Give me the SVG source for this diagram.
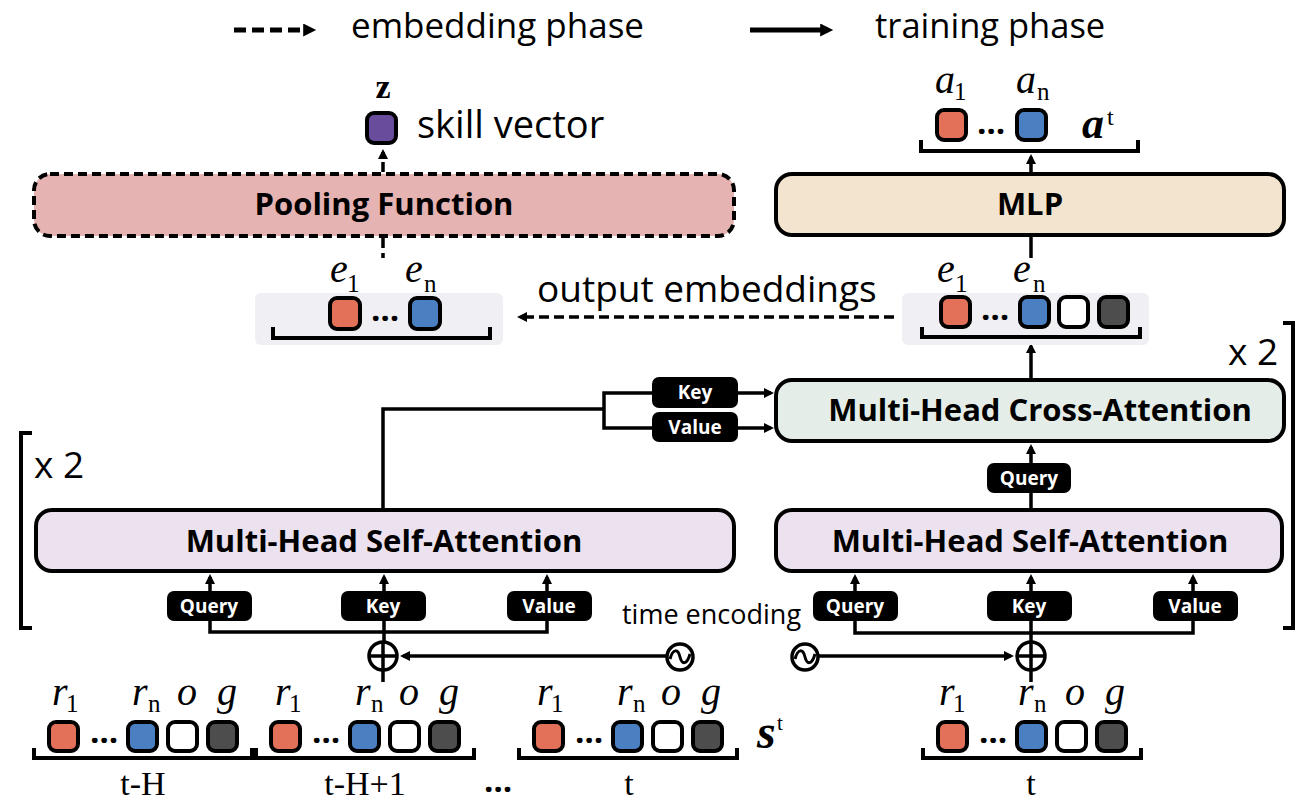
<svg xmlns="http://www.w3.org/2000/svg" width="1310" height="804" viewBox="0 0 1310 804">
<defs>
<marker id="ah" viewBox="0 0 10 10" refX="7" refY="5" markerWidth="11" markerHeight="10" markerUnits="userSpaceOnUse" orient="auto"><path d="M0,0 L10,5 L0,10 z" fill="#000"/></marker>
<marker id="ahL" viewBox="0 0 10 10" refX="6" refY="5" markerWidth="17" markerHeight="13" markerUnits="userSpaceOnUse" orient="auto"><path d="M0,0 L10,5 L0,10 z" fill="#000"/></marker>
</defs>
<style>
.box{stroke:#000;stroke-width:4}
.lbl{font-family:"Open Sans","Liberation Sans",sans-serif;font-weight:700;font-size:31px;text-anchor:middle;fill:#000}
.tag rect{fill:#000}
.tag text{fill:#fff;font-family:"Open Sans","Liberation Sans",sans-serif;font-weight:700;font-size:19px;text-anchor:middle}
.cell{stroke:#000;stroke-width:4}
.red{fill:#e3715a}.blue{fill:#4a80c1}.wht{fill:#fff}.drk{fill:#4d4d4d}.pur{fill:#6a4c9c}
.it{font-family:"Liberation Serif",serif;font-style:italic;font-size:40px}
.sub{font-family:"Liberation Serif",serif;font-size:25px}
.dots{font-family:"Open Sans","Liberation Sans",sans-serif;font-weight:700;font-size:33px;text-anchor:middle}
.ln{fill:none;stroke:#000;stroke-width:3.5}
.dash{stroke-dasharray:10 5}
.leg{fill:none;stroke:#000;stroke-width:5}
.legdash{stroke-dasharray:12 6}
.br{fill:none;stroke:#000;stroke-width:4}
.txt{font-family:"Open Sans","Liberation Sans",sans-serif;fill:#000}
.ser{font-family:"Liberation Serif",serif;font-size:34px;text-anchor:middle}
.bg{fill:#efeff4}
</style>

<g id="legend">
<path class="leg legdash" d="M234,30 H311" marker-end="url(#ahL)"/>
<text class="txt" x="351" y="38" font-size="35">embedding phase</text>
<path class="leg" d="M750,30 H828" marker-end="url(#ahL)"/>
<text class="txt" x="875" y="38" font-size="34.5">training phase</text>
</g>

<g id="connectors">
<path class="ln dash" d="M383,238 V258"/>
<path class="ln dash" d="M383,172 V152" marker-end="url(#ah)"/>
<path class="ln dash" d="M894,317 H520" marker-end="url(#ah)"/>
<path class="ln" d="M1031,237 V258"/>
<path class="ln" d="M1031,172 V157" marker-end="url(#ah)"/>
<path class="ln" d="M1031,378 V346" marker-end="url(#ah)"/>
<path class="ln" d="M1031,508 V493 M1031,463 V447" marker-end="url(#ah)"/>
<path class="ln" d="M383,508 V409 H604 M652,393 H604 V428 H652"/>
<path class="ln" d="M738,393 H771" marker-end="url(#ah)"/>
<path class="ln" d="M738,428 H771" marker-end="url(#ah)"/>
<path class="ln" d="M210,591 V577" marker-end="url(#ah)"/>
<path class="ln" d="M384,591 V577" marker-end="url(#ah)"/>
<path class="ln" d="M547,591 V577" marker-end="url(#ah)"/>
<path class="ln" d="M855,591 V577" marker-end="url(#ah)"/>
<path class="ln" d="M1031,591 V577" marker-end="url(#ah)"/>
<path class="ln" d="M1193,591 V577" marker-end="url(#ah)"/>
<path class="ln" d="M210,621 V632 H547 V621 M384,621 V642 M383,670 V682"/>
<path class="ln" d="M855,621 V633 H1193 V621 M1031,621 V642 M1031,670 V682"/>
<path class="ln" d="M667,656 H403" marker-end="url(#ah)"/>
<path class="ln" d="M818,656 H1011" marker-end="url(#ah)"/>
</g>

<g id="skill-vector">
<text x="383" y="98" font-family="Liberation Serif,serif" font-weight="700" font-size="34" text-anchor="middle">z</text>
<rect class="cell pur" x="367" y="113" width="29" height="30" rx="7"/>
<text class="txt" x="417" y="138" font-size="38">skill vector</text>
</g>

<g id="pooling-function">
<rect x="34" y="174" width="700" height="62" rx="16" fill="#e5b3b1" stroke="#000" stroke-width="4" stroke-dasharray="9 5"/>
<text class="lbl" x="384" y="215">Pooling Function</text>
</g>

<g id="mlp">
<rect class="box" x="776" y="174" width="508" height="61" rx="16" fill="#f3e4d0"/>
<text class="lbl" x="1030" y="215">MLP</text>
</g>

<g id="actions">
<text class="it" x="935" y="93">a</text><text class="sub" x="954" y="100">1</text>
<text class="it" x="1016" y="93">a</text><text class="sub" x="1037" y="100">n</text>
<rect class="cell red" x="937" y="110" width="29" height="30" rx="7"/>
<text class="dots" x="991" y="134">…</text>
<rect class="cell blue" x="1017" y="110" width="29" height="30" rx="7"/>
<path class="br" d="M921,140 V151 H1138 V140"/>
<text x="1082" y="138" font-family="Liberation Serif,serif" font-weight="700" font-style="italic" font-size="44">a</text>
<text x="1107" y="125" font-family="Liberation Serif,serif" font-size="24">t</text>
</g>

<g id="embeddings-left">
<rect class="bg" x="255" y="293" width="248" height="52" rx="6"/>
<text class="it" x="330" y="282">e</text><text class="sub" x="347" y="292">1</text>
<text class="it" x="405" y="282">e</text><text class="sub" x="424" y="292">n</text>
<rect class="cell red" x="330" y="298" width="30" height="31" rx="7"/>
<text class="dots" x="385" y="321">…</text>
<rect class="cell blue" x="410" y="298" width="30" height="31" rx="7"/>
<path class="br" d="M273,327 V338 H490 V327"/>
</g>
<text class="txt" x="537" y="302" font-size="37">output embeddings</text>

<g id="embeddings-right">
<rect class="bg" x="902" y="293" width="247" height="52" rx="6"/>
<text class="it" x="937" y="282">e</text><text class="sub" x="955" y="292">1</text>
<text class="it" x="1013" y="282">e</text><text class="sub" x="1033" y="292">n</text>
<rect class="cell red" x="941" y="297" width="29" height="30" rx="7"/>
<text class="dots" x="995" y="320">…</text>
<rect class="cell blue" x="1020" y="297" width="29" height="30" rx="7"/>
<rect class="cell wht" x="1059" y="297" width="29" height="30" rx="7"/>
<rect class="cell drk" x="1099" y="297" width="29" height="30" rx="7"/>
<path class="br" d="M922,327 V337 H1140 V327"/>
</g>

<g id="cross-attention">
<rect class="box" x="776" y="380" width="508" height="61" rx="16" fill="#e4ede7"/>
<text class="lbl" x="1040" y="421">Multi-Head Cross-Attention</text>
</g>
<g id="cross-tags" class="tag">
<rect x="652" y="377" width="86" height="31" rx="7"/><text x="695" y="399">Key</text>
<rect x="652" y="412" width="86" height="30" rx="7"/><text x="695" y="434">Value</text>
<rect x="987" y="463" width="84" height="30" rx="7"/><text x="1029" y="485">Query</text>
</g>

<g id="repeat-left">
<path class="br" d="M32,433 H21 V628 H32"/>
<text class="txt" x="34" y="478" font-size="37">x 2</text>
</g>
<g id="repeat-right">
<path class="br" d="M1283,323 H1293 V628 H1283"/>
<text class="txt" x="1228" y="365" font-size="37">x 2</text>
</g>

<g id="self-attention-left">
<rect class="box" x="36" y="510" width="698" height="61" rx="16" fill="#ece2ef"/>
<text class="lbl" x="384" y="552">Multi-Head Self-Attention</text>
</g>
<g id="self-attention-right">
<rect class="box" x="776" y="510" width="506" height="61" rx="16" fill="#ece2ef"/>
<text class="lbl" x="1030" y="552">Multi-Head Self-Attention</text>
</g>

<g id="self-tags" class="tag">
<rect x="167" y="591" width="85" height="30" rx="7"/><text x="209" y="613">Query</text>
<rect x="341" y="591" width="85" height="30" rx="7"/><text x="383" y="613">Key</text>
<rect x="507" y="591" width="85" height="30" rx="7"/><text x="549" y="613">Value</text>
<rect x="813" y="591" width="85" height="30" rx="7"/><text x="855" y="613">Query</text>
<rect x="987" y="591" width="85" height="30" rx="7"/><text x="1029" y="613">Key</text>
<rect x="1153" y="591" width="85" height="30" rx="7"/><text x="1195" y="613">Value</text>
</g>

<g id="add-left">
<circle cx="383" cy="656" r="14" fill="#fff" stroke="#000" stroke-width="3.5"/>
<path class="ln" d="M369,656 H397 M383,642 V670"/>
</g>
<g id="add-right">
<circle cx="1031" cy="656" r="14" fill="#fff" stroke="#000" stroke-width="3.5"/>
<path class="ln" d="M1017,656 H1045 M1031,642 V670"/>
</g>
<g id="time-enc-left">
<circle cx="680" cy="657" r="13" fill="#fff" stroke="#000" stroke-width="3.5"/>
<path d="M670,659 C673,648 678,649 680,657 C682,665 687,665 690,654" fill="none" stroke="#000" stroke-width="3"/>
</g>
<g id="time-enc-right">
<circle cx="805" cy="657" r="13" fill="#fff" stroke="#000" stroke-width="3.5"/>
<path d="M795,659 C798,648 803,649 805,657 C807,665 812,665 815,654" fill="none" stroke="#000" stroke-width="3"/>
</g>
<text class="txt" x="622" y="624" font-size="27">time encoding</text>

<g id="state-t-H">
<text class="it" x="52" y="705">r</text><text class="sub" x="66" y="712">1</text>
<text class="it" x="132" y="705">r</text><text class="sub" x="148" y="712">n</text>
<text class="it" x="177" y="705">o</text><text class="it" x="217" y="705">g</text>
<rect class="cell red" x="49" y="722" width="29" height="29" rx="7"/>
<text class="dots" x="104" y="743">…</text>
<rect class="cell blue" x="128" y="722" width="29" height="29" rx="7"/>
<rect class="cell wht" x="168" y="722" width="29" height="29" rx="7"/>
<rect class="cell drk" x="208" y="722" width="29" height="29" rx="7"/>
<path class="br" d="M34,748 V758 H252 V748"/>
<text class="ser" x="143" y="795">t-H</text>
</g>
<g id="state-t-H1">
<text class="it" x="275" y="705">r</text><text class="sub" x="289" y="712">1</text>
<text class="it" x="355" y="705">r</text><text class="sub" x="371" y="712">n</text>
<text class="it" x="399" y="705">o</text><text class="it" x="439" y="705">g</text>
<rect class="cell red" x="271" y="722" width="29" height="29" rx="7"/>
<text class="dots" x="326" y="743">…</text>
<rect class="cell blue" x="350" y="722" width="29" height="29" rx="7"/>
<rect class="cell wht" x="390" y="722" width="29" height="29" rx="7"/>
<rect class="cell drk" x="430" y="722" width="29" height="29" rx="7"/>
<path class="br" d="M256,748 V758 H474 V748"/>
<text class="ser" x="365" y="795">t-H+1</text>
</g>
<text class="dots" x="498" y="792">…</text>
<g id="state-t">
<text class="it" x="537" y="705">r</text><text class="sub" x="551" y="712">1</text>
<text class="it" x="617" y="705">r</text><text class="sub" x="633" y="712">n</text>
<text class="it" x="661" y="705">o</text><text class="it" x="701" y="705">g</text>
<rect class="cell red" x="534" y="722" width="29" height="29" rx="7"/>
<text class="dots" x="589" y="743">…</text>
<rect class="cell blue" x="613" y="722" width="29" height="29" rx="7"/>
<rect class="cell wht" x="653" y="722" width="29" height="29" rx="7"/>
<rect class="cell drk" x="693" y="722" width="29" height="29" rx="7"/>
<path class="br" d="M519,748 V758 H737 V748"/>
<text class="ser" x="629" y="795">t</text>
</g>
<g id="state-label">
<text x="757" y="748" font-family="Liberation Serif,serif" font-weight="700" font-style="italic" font-size="48">s</text>
<text x="777" y="730" font-family="Liberation Serif,serif" font-size="21">t</text>
</g>
<g id="state-current">
<text class="it" x="939" y="705">r</text><text class="sub" x="953" y="712">1</text>
<text class="it" x="1018" y="705">r</text><text class="sub" x="1034" y="712">n</text>
<text class="it" x="1065" y="705">o</text><text class="it" x="1105" y="705">g</text>
<rect class="cell red" x="938" y="722" width="29" height="29" rx="7"/>
<text class="dots" x="993" y="743">…</text>
<rect class="cell blue" x="1017" y="722" width="29" height="29" rx="7"/>
<rect class="cell wht" x="1057" y="722" width="29" height="29" rx="7"/>
<rect class="cell drk" x="1097" y="722" width="29" height="29" rx="7"/>
<path class="br" d="M923,748 V758 H1141 V748"/>
<text class="ser" x="1031" y="795">t</text>
</g>
</svg>
